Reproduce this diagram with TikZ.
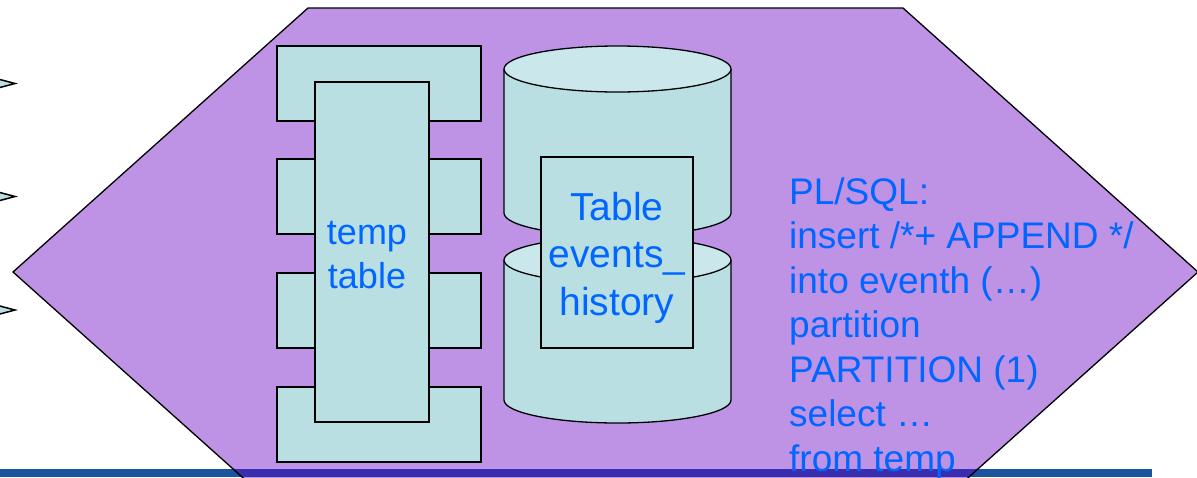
\documentclass[tikz,border=0pt]{standalone}
\usepackage{fontspec}
\setmainfont{Liberation Sans}
\definecolor{hexpurple}{RGB}{190,147,230}
\definecolor{boxcyan}{RGB}{185,223,227}
\definecolor{topcyan}{RGB}{202,232,235}
\definecolor{txtblue}{RGB}{0,102,255}
\definecolor{barblue}{RGB}{26,84,158}
\definecolor{barindigo}{RGB}{58,46,176}
\tikzset{
  outl/.style={draw=black, line width=1.3pt},
  cyanbox/.style={outl, fill=boxcyan},
  bluetext/.style={text=txtblue, inner sep=0pt, font=#1},
  tiphead/.style={draw=black, line width=1.5pt, fill=boxcyan, line join=miter}
}
\begin{document}
\begin{tikzpicture}[x=1pt,y=-1pt]
\useasboundingbox (0,0) rectangle (1197,477);
\begin{scope}
\clip (0,0) rectangle (1197,477);
% hexagon fill
\fill[hexpurple] (13,272) -- (308,8) -- (903,8) -- (1198,272) -- (903,536) -- (308,536) -- cycle;
% bottom bar
\fill[barblue] (0,469) rectangle (1152,477);
\begin{scope}
\clip (13,272) -- (308,8) -- (903,8) -- (1198,272) -- (903,536) -- (308,536) -- cycle;
\fill[barindigo] (0,469) rectangle (1152,477);
\end{scope}
% hexagon outline
\draw[outl] (13,272) -- (308,8) -- (903,8) -- (1198,272) -- (903,536) -- (308,536) -- cycle;
% arrow tips at left
\draw[tiphead] (-2,79) -- (15,83.5) -- (-2,88);
\draw[tiphead] (-2,192) -- (15,196.5) -- (-2,201);
\draw[tiphead] (-2,305.5) -- (15,310) -- (-2,314.5);
\end{scope}
% temp table
\draw[cyanbox] (277,46) rectangle (481,121);
\draw[cyanbox] (277,159) rectangle (481,234);
\draw[cyanbox] (277,273) rectangle (481,348);
\draw[cyanbox] (277,387) rectangle (481,462);
\draw[cyanbox] (315,82) rectangle (429,422);
\node[bluetext={\fontsize{36}{44}\selectfont}, align=center, anchor=north] (tmptxt) at (367,221.5) {temp\\table};
% top cylinder
\fill[boxcyan] (504,69) -- (504,213) arc[start angle=180, end angle=360, x radius=113.5pt, y radius=23pt] -- (731,69) -- cycle;
\draw[outl] (504,69) -- (504,213) arc[start angle=180, end angle=360, x radius=113.5pt, y radius=23pt] -- (731,69);
\draw[outl, fill=topcyan] (617.5,69) ellipse [x radius=113.5pt, y radius=23pt];
% bottom cylinder
\fill[boxcyan] (504,260) -- (504,400) arc[start angle=180, end angle=360, x radius=113.5pt, y radius=23pt] -- (731,260) -- cycle;
\draw[outl] (504,260) -- (504,400) arc[start angle=180, end angle=360, x radius=113.5pt, y radius=23pt] -- (731,260);
\draw[outl, fill=topcyan] (617.5,260) ellipse [x radius=113.5pt, y radius=23pt];
% table box
\draw[cyanbox] (541,157) rectangle (693,348);
\node[bluetext={\fontsize{39}{47.5}\selectfont}, align=center, anchor=north] (evtxt) at (617,192) {Table\\events\_\\history};
% SQL text
\node[bluetext={\fontsize{37}{44.5}\selectfont}, align=left, anchor=north west] (sql) at (789,177) {PL/SQL:\\insert /*+ APPEND */\\into eventh (…)\\partition\\PARTITION (1)\\select …\\from temp};
\end{tikzpicture}
\end{document}
